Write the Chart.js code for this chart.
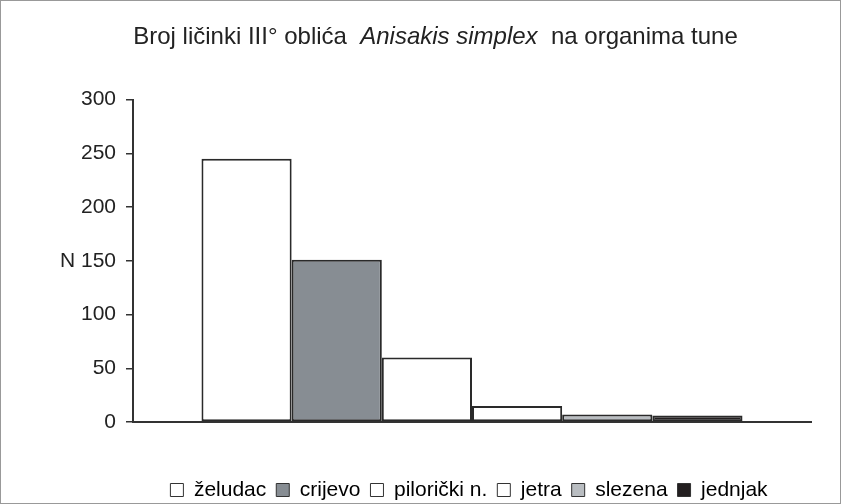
<!DOCTYPE html>
<html><head><meta charset="utf-8">
<script src="https://cdn.jsdelivr.net/npm/chart.js@4"></script>
<style>
html,body{margin:0;padding:0;background:#fff;}
#wrap{position:relative;width:841px;height:504px;box-sizing:border-box;border:1px solid #999;overflow:hidden;}
#title{position:absolute;left:14px;top:21px;width:841px;text-align:center;font-family:"Liberation Sans",Arial,sans-serif;font-size:24px;line-height:normal;color:#222;}
canvas{position:absolute;left:0;top:0;}
</style></head>
<body>
<div id="wrap">
<canvas id="c" width="841" height="504"></canvas>
<div id="title">Broj ličinki III° oblića&nbsp; <i>Anisakis simplex</i>&nbsp; na organima tune</div>
</div>
<script>
const categories = [""];
const seriesNames = ["želudac","crijevo","pilorički n.","jetra","slezena","jednjak"];
const seriesValues = [245, 151, 60, 15, 7, 6];
const seriesColors = ["#ffffff","#878d93","#ffffff","#ffffff","#b9bdc1","#231f20"];
const yTicks = [0,50,100,150,200,250,300];

const datasets = seriesNames.map((n,i)=>({
  label:n,
  data:[seriesValues[i]],
  backgroundColor:seriesColors[i],
  borderColor:"#2a2a2a",
  borderWidth:2,
  borderSkipped:false,
  categoryPercentage:0.798,
  barPercentage:1.0
}));

const legendShift = {
  id:'legendShift',
  afterLayout(chart){
    const lg = chart.legend; if(!lg) return;
    const dx = 63, dy = 5.5;
    lg.left += dx; lg.right += dx; lg.top += dy; lg.bottom += dy;
  }
};

new Chart(document.getElementById('c'),{
  type:'bar',
  data:{labels:categories,datasets},
  plugins:[legendShift],
  options:{
    responsive:false,
    animation:false,
    layout:{padding:{left:0,right:31,top:98.5,bottom:0}},
    plugins:{
      tooltip:{enabled:false},
      legend:{
        position:'bottom',
        labels:{
          font:{family:"Liberation Sans",size:21},
          color:'#222',
          boxWidth:13,boxHeight:13,padding:10,
          generateLabels:(chart)=>chart.data.datasets.map((d,i)=>({
            text:d.label,fillStyle:d.backgroundColor,strokeStyle:'#333',lineWidth:1,datasetIndex:i,hidden:false
          }))
        }
      }
    },
    scales:{
      x:{
        afterFit:(s)=>{s.height=42;},
        grid:{display:false},
        border:{color:'#333',width:2},
        ticks:{display:false}
      },
      y:{
        min:0,max:300,
        afterFit:(s)=>{s.width=132;},
        afterBuildTicks:(s)=>{s.ticks=yTicks.map(v=>({value:v}));},
        grid:{drawOnChartArea:false,tickLength:7,color:'#333',lineWidth:1.5},
        border:{color:'#333',width:2},
        ticks:{
          font:{family:"Liberation Sans",size:21},
          color:'#222',padding:10,
          callback:(v)=> v===150 ? 'N 150' : String(v)
        }
      }
    }
  }
});
</script>
</body></html>
